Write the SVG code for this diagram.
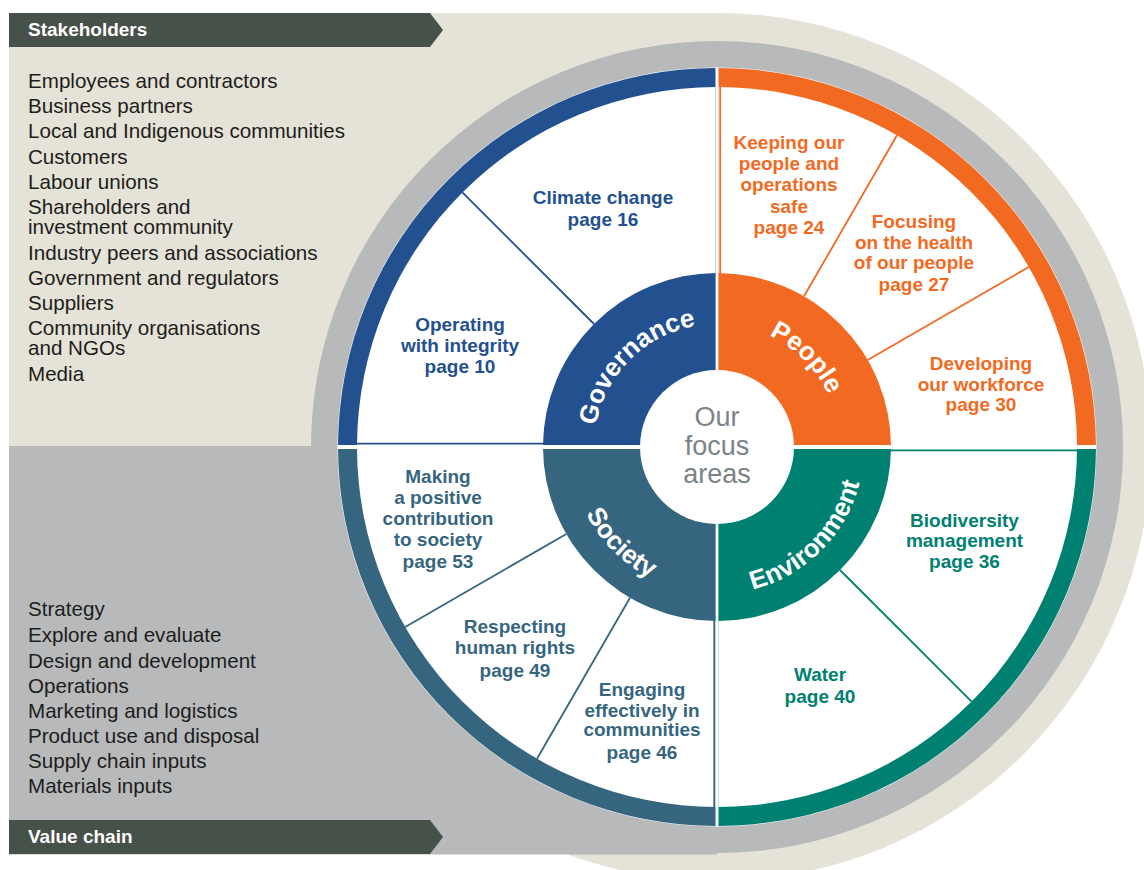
<svg xmlns="http://www.w3.org/2000/svg" width="1144" height="870" viewBox="0 0 1144 870">
<style>
.lst{font-family:"Liberation Sans",Arial,sans-serif;font-size:20.6px;fill:#1d1d1b}
.ban{font-family:"Liberation Sans",Arial,sans-serif;font-size:19px;font-weight:700;fill:#ffffff}
.lbl{font-family:"Liberation Sans",Arial,sans-serif;font-size:19px;font-weight:700;text-anchor:middle}
.seg{font-family:"Liberation Sans",Arial,sans-serif;font-size:26px;font-weight:700;fill:#ffffff;text-anchor:middle}
.ctr{font-family:"Liberation Sans",Arial,sans-serif;font-size:27px;fill:#7b8388;text-anchor:middle}
.gov{fill:#23508f}.peo{fill:#f26a22}.soc{fill:#36667f}.env{fill:#008071}
.sgov{stroke:#23508f}.speo{stroke:#f26a22}.ssoc{stroke:#36667f}.senv{stroke:#008071}
.div{stroke-width:1.8;fill:none}
.edge{stroke-width:1.7;fill:none}
.bannerbg{fill:#46514a}
.beige{fill:#e5e2d7}
.grey{fill:#b7b9bb}
</style>
<defs>
<clipPath id="q1"><rect x="300" y="20" width="415.5" height="425"/></clipPath>
<clipPath id="q2"><rect x="718.5" y="20" width="420" height="425"/></clipPath>
<clipPath id="q3"><rect x="300" y="449" width="415.5" height="420"/></clipPath>
<clipPath id="q4"><rect x="718.5" y="449" width="420" height="420"/></clipPath>
<path id="pGov" d="M594,447 A123,123 0 0,1 717,324"/>
<path id="pPeo" d="M717,324 A123,123 0 0,1 840,447"/>
<path id="pSoc" d="M570,447 A147,147 0 0,0 717,594"/>
<path id="pEnv" d="M717,594 A147,147 0 0,0 864,447"/>
</defs>

<rect x="0" y="0" width="1144" height="870" fill="#ffffff"/>

<g id="background">
<circle class="beige" cx="717" cy="447" r="434"/>
<rect class="beige" x="9" y="13" width="708" height="434"/>
<rect class="grey" x="9" y="446" width="708" height="408.5"/>
<circle class="grey" cx="717" cy="447" r="406"/>
<circle cx="717" cy="447" r="379.5" fill="#ffffff"/>
</g>

<g id="stakeholders-banner">
<polygon class="bannerbg" points="9,13 430,13 443,30 430,47 9,47"/>
<text class="ban" x="28" y="36">Stakeholders</text>
</g>

<g id="stakeholders-list">
<text class="lst" x="28" y="88">Employees and contractors</text>
<text class="lst" x="28" y="113">Business partners</text>
<text class="lst" x="28" y="138">Local and Indigenous communities</text>
<text class="lst" x="28" y="163.5">Customers</text>
<text class="lst" x="28" y="189">Labour unions</text>
<text class="lst" x="28" y="214">Shareholders and</text>
<text class="lst" x="28" y="234">investment community</text>
<text class="lst" x="28" y="259.5">Industry peers and associations</text>
<text class="lst" x="28" y="285">Government and regulators</text>
<text class="lst" x="28" y="310">Suppliers</text>
<text class="lst" x="28" y="335">Community organisations</text>
<text class="lst" x="28" y="355">and NGOs</text>
<text class="lst" x="28" y="381">Media</text>
</g>

<g id="value-chain-banner">
<polygon class="bannerbg" points="9,820 430,820 443,837 430,854 9,854"/>
<text class="ban" x="28" y="843">Value chain</text>
</g>

<g id="value-chain-list">
<text class="lst" x="28" y="616">Strategy</text>
<text class="lst" x="28" y="642">Explore and evaluate</text>
<text class="lst" x="28" y="667.5">Design and development</text>
<text class="lst" x="28" y="692.5">Operations</text>
<text class="lst" x="28" y="717.5">Marketing and logistics</text>
<text class="lst" x="28" y="742.5">Product use and disposal</text>
<text class="lst" x="28" y="768">Supply chain inputs</text>
<text class="lst" x="28" y="793">Materials inputs</text>
</g>

<g id="governance">
<g clip-path="url(#q1)">
<circle class="gov" cx="717" cy="447" r="379"/>
<circle cx="717" cy="447" r="360" fill="#ffffff"/>
<circle class="gov" cx="717" cy="447" r="174"/>
<line class="edge sgov" x1="340" y1="443.6" x2="716" y2="443.6"/>
</g>
<text class="seg"><textPath href="#pGov" startOffset="50%">Governance</textPath></text>
</g>

<g id="people">
<g clip-path="url(#q2)">
<circle class="peo" cx="717" cy="447" r="379"/>
<circle cx="717" cy="447" r="360" fill="#ffffff"/>
<circle class="peo" cx="717" cy="447" r="174"/>
<line class="edge speo" x1="720.2" y1="70" x2="720.2" y2="445"/>
</g>
<text class="seg"><textPath href="#pPeo" startOffset="50%">People</textPath></text>
</g>

<g id="society">
<g clip-path="url(#q3)">
<circle class="soc" cx="717" cy="447" r="379"/>
<circle cx="717" cy="447" r="360" fill="#ffffff"/>
<circle class="soc" cx="717" cy="447" r="174"/>
<line class="edge ssoc" x1="714.2" y1="449" x2="714.2" y2="826"/>
</g>
<text class="seg"><textPath href="#pSoc" startOffset="50%">Society</textPath></text>
</g>

<g id="environment">
<g clip-path="url(#q4)">
<circle class="env" cx="717" cy="447" r="379"/>
<circle cx="717" cy="447" r="360" fill="#ffffff"/>
<circle class="env" cx="717" cy="447" r="174"/>
<line class="edge senv" x1="718" y1="450.4" x2="1094" y2="450.4"/>
</g>
<text class="seg"><textPath href="#pEnv" startOffset="50%">Environment</textPath></text>
</g>

<g id="center">
<circle cx="717" cy="447" r="77" fill="#ffffff"/>
<text class="ctr" x="717" y="426">Our</text>
<text class="ctr" x="717" y="454.5">focus</text>
<text class="ctr" x="717" y="483">areas</text>
</g>

<g id="dividers">
<line class="div sgov" x1="594" y1="324" x2="462.4" y2="192.4"/>
<line class="div speo" x1="804" y1="296.3" x2="897" y2="135.2"/>
<line class="div speo" x1="867.7" y1="360" x2="1028.8" y2="267"/>
<line class="div senv" x1="840" y1="570" x2="971.6" y2="701.6"/>
<line class="div ssoc" x1="566.3" y1="534" x2="405.2" y2="627"/>
<line class="div ssoc" x1="630" y1="597.7" x2="537" y2="758.8"/>
</g>

<g id="topic-climate">
<text class="lbl gov" x="603" y="204">Climate change</text>
<text class="lbl gov" x="603" y="226">page 16</text>
</g>
<g id="topic-integrity">
<text class="lbl gov" x="460" y="331">Operating</text>
<text class="lbl gov" x="460" y="352">with integrity</text>
<text class="lbl gov" x="460" y="373">page 10</text>
</g>
<g id="topic-safe">
<text class="lbl peo" x="789" y="149">Keeping our</text>
<text class="lbl peo" x="789" y="170">people and</text>
<text class="lbl peo" x="789" y="191">operations</text>
<text class="lbl peo" x="789" y="213">safe</text>
<text class="lbl peo" x="789" y="234">page 24</text>
</g>
<g id="topic-health">
<text class="lbl peo" x="914" y="228">Focusing</text>
<text class="lbl peo" x="914" y="249">on the health</text>
<text class="lbl peo" x="914" y="269">of our people</text>
<text class="lbl peo" x="914" y="291">page 27</text>
</g>
<g id="topic-workforce">
<text class="lbl peo" x="981" y="370">Developing</text>
<text class="lbl peo" x="981" y="391">our workforce</text>
<text class="lbl peo" x="981" y="411">page 30</text>
</g>
<g id="topic-biodiversity">
<text class="lbl env" x="964.5" y="527">Biodiversity</text>
<text class="lbl env" x="964.5" y="547">management</text>
<text class="lbl env" x="964.5" y="568">page 36</text>
</g>
<g id="topic-water">
<text class="lbl env" x="820" y="681">Water</text>
<text class="lbl env" x="820" y="703">page 40</text>
</g>
<g id="topic-society">
<text class="lbl soc" x="438" y="483">Making</text>
<text class="lbl soc" x="438" y="504">a positive</text>
<text class="lbl soc" x="438" y="525">contribution</text>
<text class="lbl soc" x="438" y="546">to society</text>
<text class="lbl soc" x="438" y="568">page 53</text>
</g>
<g id="topic-rights">
<text class="lbl soc" x="515" y="633">Respecting</text>
<text class="lbl soc" x="515" y="654">human rights</text>
<text class="lbl soc" x="515" y="677">page 49</text>
</g>
<g id="topic-communities">
<text class="lbl soc" x="642" y="696">Engaging</text>
<text class="lbl soc" x="642" y="717">effectively in</text>
<text class="lbl soc" x="642" y="736">communities</text>
<text class="lbl soc" x="642" y="759">page 46</text>
</g>
</svg>
